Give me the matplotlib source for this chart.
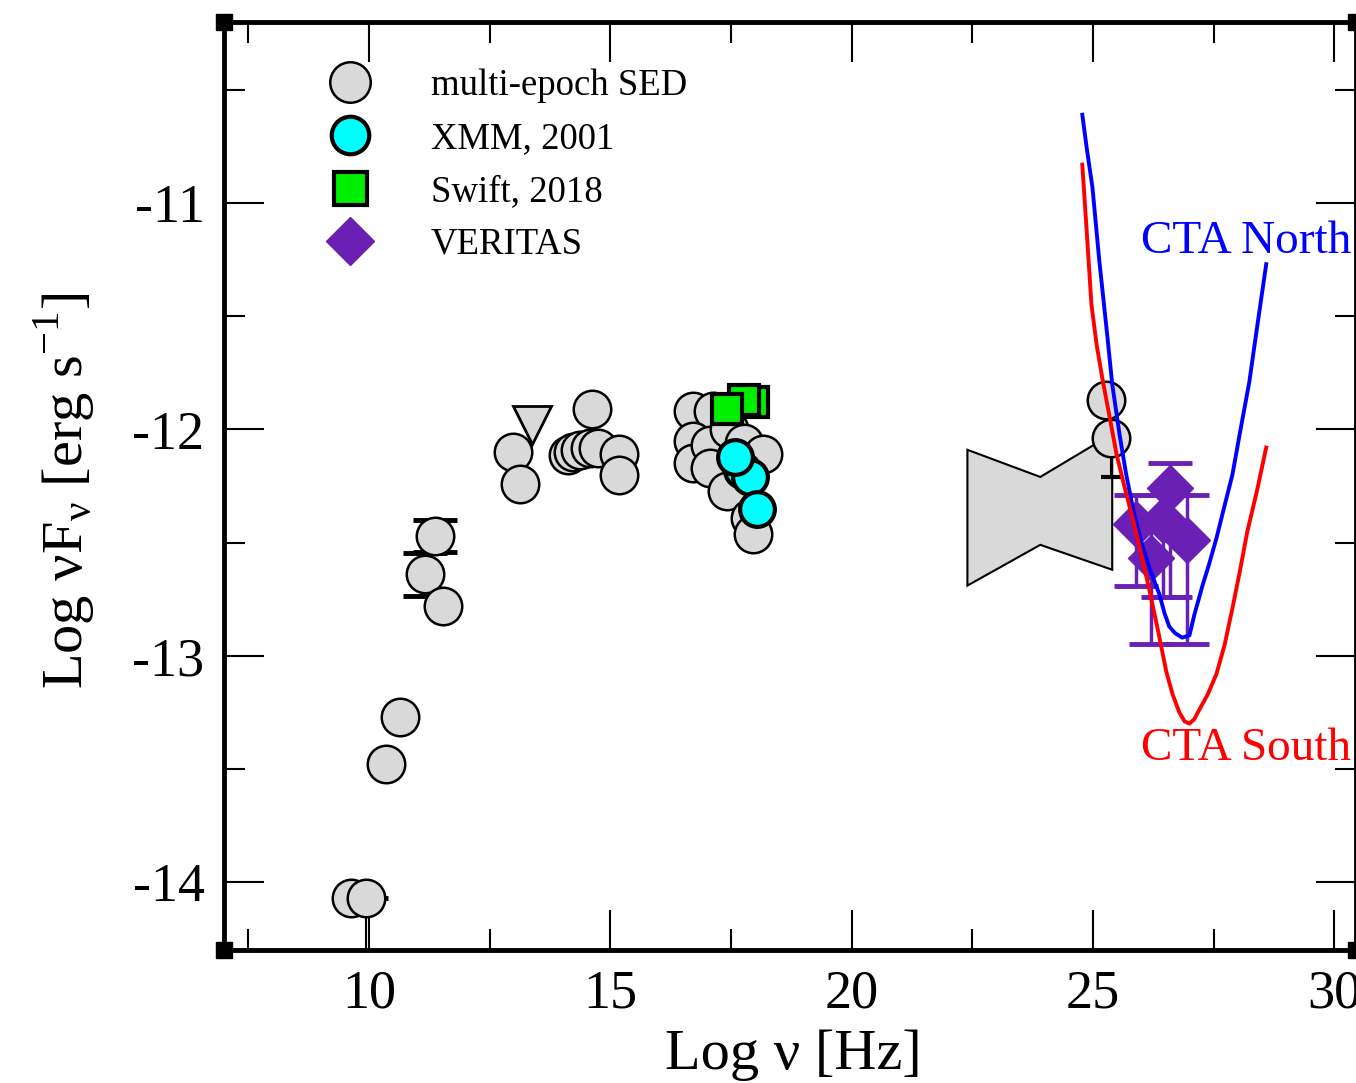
import numpy as np
import matplotlib
matplotlib.use('Agg')
import matplotlib.pyplot as plt
from matplotlib.ticker import MultipleLocator

plt.rcParams['font.family'] = ['Liberation Serif', 'DejaVu Serif']
plt.rcParams['axes.unicode_minus'] = False
plt.rcParams['mathtext.fontset'] = 'custom'
plt.rcParams['mathtext.rm'] = 'Liberation Serif'

# multi-epoch SED (log nu, log nuFnu)
sed_x = [9.64, 9.94, 10.35, 10.64, 11.17, 11.38, 11.53, 12.98, 13.13,
         14.12, 14.22, 14.37, 14.58, 14.62, 14.74, 15.18, 15.18,
         16.71, 17.12, 16.71, 16.71, 17.06, 17.06, 17.41, 17.47, 17.78,
         17.89, 17.95, 18.16, 25.28, 25.38]
sed_y = [-14.07, -14.07, -13.48, -13.27, -12.64, -12.47, -12.78, -12.10, -12.24,
         -12.115, -12.10, -12.09, -12.08, -11.91, -12.08, -12.11, -12.20,
         -11.92, -11.92, -12.05, -12.15, -12.07, -12.17, -12.27, -12.00, -12.06,
         -12.39, -12.46, -12.11, -11.87, -12.04]

# radio error bars
radio_err_x = [9.94, 11.17, 11.38]
radio_err_y = [-14.07, -12.64, -12.47]
radio_err_lo = [0.8, 0.095, 0.07]
radio_err_hi = [0.0, 0.095, 0.07]

# gamma-ray archival points error bars
gam_err_x = [25.28, 25.38]
gam_err_y = [-11.87, -12.04]
gam_err_lo = [0.06, 0.17]
gam_err_hi = [0.06, 0.06]

# upper limit
ul_x = [13.39]
ul_y = [-11.98]

# Fermi bowtie
bow_x = [22.40, 23.91, 25.40, 25.40, 23.91, 22.40]
bow_y = [-12.09, -12.21, -12.02, -12.62, -12.51, -12.69]

# XMM 2001
xmm_x = [17.74, 17.89, 17.58, 18.05]
xmm_y = [-12.18, -12.21, -12.12, -12.35]

# Swift 2018
swift_x = [17.95, 17.78, 17.41]
swift_y = [-11.88, -11.87, -11.91]

# VERITAS
ver_x = [25.90, 26.20, 26.45, 26.60, 26.95]
ver_y = [-12.42, -12.57, -12.40, -12.26, -12.49]
ver_lo = [0.27, 0.38, 0.34, 0.48, 0.46]
ver_hi = [0.13, 0.12, 0.11, 0.11, 0.20]

# CTA sensitivity curves
ctan_x = [24.78, 24.88, 24.99, 25.13, 25.30, 25.40, 25.55, 25.69, 25.85, 26.02, 26.20,
          26.38, 26.48, 26.58, 26.70, 26.85, 27.00, 27.10, 27.27, 27.40, 27.56, 27.70,
          27.89, 28.05, 28.24, 28.40, 28.59]
ctan_y = [-10.61, -10.77, -10.93, -11.25, -11.59, -11.80, -12.02, -12.20, -12.37, -12.51, -12.63,
          -12.73, -12.81, -12.87, -12.90, -12.92, -12.91, -12.82, -12.69, -12.60, -12.48, -12.36,
          -12.20, -12.01, -11.79, -11.55, -11.27]
ctas_x = [24.78, 24.87, 24.97, 25.08, 25.20, 25.35, 25.49, 25.65, 25.82, 26.00, 26.17,
          26.35, 26.52, 26.65, 26.79, 26.90, 27.00, 27.10, 27.20, 27.38, 27.56, 27.73,
          27.90, 28.05, 28.20, 28.40, 28.59]
ctas_y = [-10.83, -11.12, -11.45, -11.63, -11.78, -11.95, -12.11, -12.25, -12.39, -12.55, -12.71,
          -12.89, -13.07, -13.17, -13.25, -13.29, -13.30, -13.28, -13.24, -13.17, -13.08, -12.95,
          -12.78, -12.62, -12.45, -12.27, -12.08]

gray = '#d9d9d9'
purple = '#6a1fb5'

fig = plt.figure(figsize=(13.56, 10.83), dpi=100)
ax = fig.add_axes([224/1356, 133/1083, 1132/1356, 928/1083])

ax.fill(bow_x, bow_y, facecolor=gray, edgecolor='black', lw=1.5, zorder=2)

ax.errorbar(radio_err_x, radio_err_y, yerr=[radio_err_lo, radio_err_hi], fmt='none',
            ecolor='black', elinewidth=1.5, capsize=16, capthick=3.5, zorder=2)
ax.errorbar(gam_err_x, gam_err_y, yerr=[gam_err_lo, gam_err_hi], fmt='none',
            ecolor='black', elinewidth=1.5, capsize=7, capthick=3, zorder=2)

h_sed, = ax.plot(sed_x, sed_y, 'o', ms=27, mfc=gray, mec='black', mew=1.8, zorder=3,
                 label='multi-epoch SED')
ax.plot(ul_x, ul_y, 'v', ms=27, mfc=gray, mec='black', mew=2, zorder=3)

h_xmm, = ax.plot(xmm_x, xmm_y, 'o', ms=25, mfc='#00ffff', mec='black', mew=3, zorder=4,
                 label='XMM, 2001')
h_swift, = ax.plot(swift_x, swift_y, 's', ms=22, mfc='#00ee00', mec='black', mew=3, zorder=4,
                   label='Swift, 2018')

ax.errorbar(ver_x, ver_y, yerr=[ver_lo, ver_hi], fmt='none', ecolor=purple,
            elinewidth=2.5, capsize=16, capthick=3.5, zorder=4)
h_ver, = ax.plot(ver_x, ver_y, 'D', ms=23, mfc=purple, mec=purple, mew=1, zorder=4,
                 label='VERITAS')

ax.plot(ctan_x, ctan_y, color='#0000ff', lw=2.8, zorder=6)
ax.plot(ctas_x, ctas_y, color='#ff0000', lw=2.8, zorder=6)
ax.text(26.0, -11.17, 'CTA North', color='#0000ff', fontsize=34, va='center', ha='left')
ax.text(26.0, -13.41, 'CTA South', color='#ff0000', fontsize=34, va='center', ha='left')

ax.set_xlim(7, 30.45)
ax.set_ylim(-14.3, -10.2)
ax.xaxis.set_major_locator(MultipleLocator(5))
ax.xaxis.set_minor_locator(MultipleLocator(2.5))
ax.yaxis.set_major_locator(MultipleLocator(1))
ax.yaxis.set_minor_locator(MultipleLocator(0.5))
ax.tick_params(which='both', direction='in', top=True, right=True, width=1.5,
               labelsize=39, colors='black')
ax.tick_params(which='major', length=29, pad=14)
ax.tick_params(which='minor', length=15)
for s in ax.spines.values():
    s.set_linewidth(3.5)

# corner blocks like the original plotting program
ax.plot([0, 0, 1, 1], [0, 1, 0, 1], 's', ms=11, color='black', transform=ax.transAxes,
        clip_on=False, zorder=10)

ax.set_xlabel('Log ν [Hz]', fontsize=42)
ax.xaxis.set_label_coords(0.503, -0.085)
ax.set_ylabel(r'Log νF$_{\mathregular{ν}}$ [erg s$^{\mathregular{-1}}$]', fontsize=42)
ax.yaxis.set_label_coords(-0.113, 0.495)

ax.legend(handles=[h_sed, h_xmm, h_swift, h_ver], loc='upper left',
          bbox_to_anchor=(0.0866, 0.950), frameon=False, fontsize=26.5, numpoints=1,
          handlelength=1.5, handletextpad=1.45, labelspacing=0.5, borderpad=0,
          borderaxespad=0, markerscale=1.08)

fig.savefig('out.png', dpi=100)
